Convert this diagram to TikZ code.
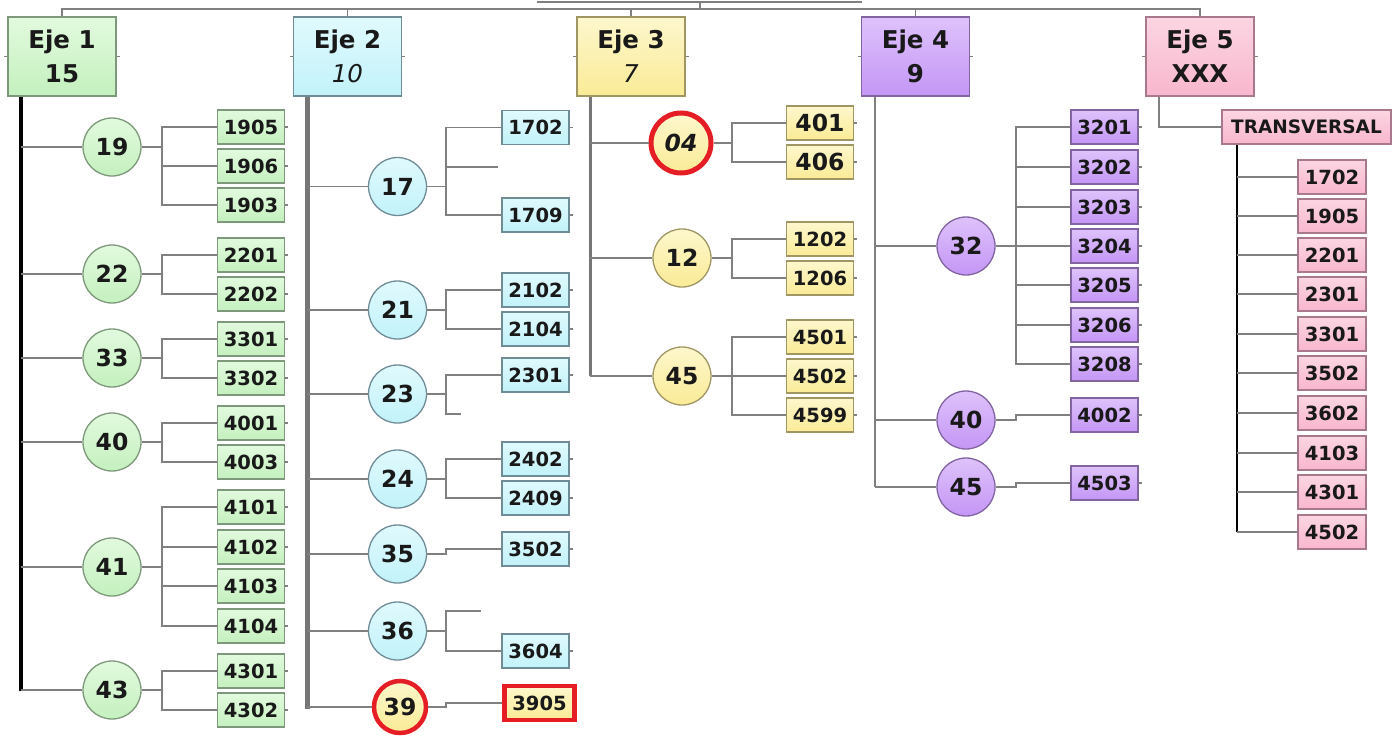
\documentclass[tikz,border=0pt]{standalone}
\usepackage{fontspec}
\setmainfont{DejaVu Sans}
\definecolor{tx}{RGB}{25,25,25}
\definecolor{lg}{RGB}{128,128,128}
\definecolor{tg}{RGB}{118,118,118}
\definecolor{gF}{RGB}{196,240,190}\definecolor{gT}{RGB}{226,250,222}\definecolor{gD}{RGB}{125,152,122}
\definecolor{bF}{RGB}{194,242,250}\definecolor{bT}{RGB}{224,250,253}\definecolor{bD}{RGB}{112,140,150}
\definecolor{yF}{RGB}{250,235,150}\definecolor{yT}{RGB}{253,247,205}\definecolor{yD}{RGB}{160,150,100}
\definecolor{pF}{RGB}{196,150,245}\definecolor{pT}{RGB}{222,194,251}\definecolor{pD}{RGB}{130,100,160}
\definecolor{rF}{RGB}{248,182,205}\definecolor{rT}{RGB}{252,214,226}\definecolor{rD}{RGB}{170,120,140}
\definecolor{ring}{RGB}{228,30,36}
\tikzset{
  conn/.style={draw=lg, line width=1.4pt},
  stubl/.style={draw=lg, line width=1.2pt},
  leafbase/.style={rectangle, minimum width=67pt, minimum height=34pt, inner sep=0pt, line width=1.3pt, text=tx,
     font=\fontsize{19.5}{19.5}\selectfont\bfseries},
  leafG/.style={leafbase, draw=gD, top color=gT, bottom color=gF},
  leafB/.style={leafbase, draw=bD, top color=bT, bottom color=bF},
  leafY/.style={leafbase, draw=yD, top color=yT, bottom color=yF},
  leafP/.style={leafbase, draw=pD, top color=pT, bottom color=pF},
  leafR/.style={leafbase, minimum width=68pt, draw=rD, top color=rT, bottom color=rF},
  circbase/.style={circle, minimum size=58pt, inner sep=0pt, line width=1.3pt, text=tx,
     font=\fontsize{23.5}{23.5}\selectfont\bfseries},
  circG/.style={circbase, draw=gD, top color=gT, bottom color=gF},
  circB/.style={circbase, draw=bD, top color=bT, bottom color=bF},
  circY/.style={circbase, draw=yD, top color=yT, bottom color=yF},
  circP/.style={circbase, draw=pD, top color=pT, bottom color=pF},
  head/.style={rectangle, minimum width=108pt, minimum height=79pt, inner sep=0pt, line width=1.5pt, align=center,
     text=tx, font=\fontsize{24.5}{34}\selectfont\bfseries},
}
\begin{document}
\begin{tikzpicture}[x=1pt,y=-1pt]
\useasboundingbox (0,0) rectangle (1396,736);
% headers
\node[head, draw=gD, top color=gT, bottom color=gF] (e1) at (62,56.5) {Eje 1\\15};
\node[head, draw=bD, top color=bT, bottom color=bF] (e2) at (347.5,56.5) {Eje 2\\{\mdseries\itshape 10}};
\node[head, draw=yD, top color=yT, bottom color=yF] (e3) at (631,56.5) {Eje 3\\{\mdseries\itshape 7}};
\node[head, draw=pD, top color=pT, bottom color=pF] (e4) at (915.5,56.5) {Eje 4\\9};
\node[head, draw=rD, top color=rT, bottom color=rF] (e5) at (1200,56.5) {Eje 5\\XXX};
% top connectors
\coordinate (top) at (700,9);
\coordinate (root) at (700,2);
\coordinate (ua) at (537,2);
\coordinate (ub) at (862,2);
\draw[conn] (ua) -- (ub);
\draw[conn] (root) -- (top);
\draw[conn] (e1.north) -- (e1.north |- top) -- (e5.north |- top) -- (e5.north);
\foreach \e in {e2,e3,e4} \draw[conn] (\e.north) -- (\e.north |- top);

% ---------- Eje 1 ----------
\foreach \n/\y in {19/147,22/274,33/358,40/442,41/567,43/690}
  \node[circG] (c\n) at (112,\y) {\n};
\foreach \n/\y in {1905/127,1906/166,1903/205,2201/255,2202/294,3301/339,3302/378,4001/423,4003/462,4101/507,4102/547,4103/586,4104/626,4301/671,4302/710}
  \node[leafG] (g\n) at (251,\y) {\n};
\coordinate (t1) at (21,691);
\coordinate (bg) at (162,0);
\draw[black, line width=3.2pt] (e1.south -| t1) -- (t1);
\foreach \c in {c19,c22,c33,c40,c41,c43} \draw[conn] (t1 |- \c.west) -- (\c.west);
\foreach \c/\l in {c19/g1905,c19/g1906,c19/g1903,c22/g2201,c22/g2202,c33/g3301,c33/g3302,c40/g4001,c40/g4003,c41/g4101,c41/g4102,c41/g4103,c41/g4104,c43/g4301,c43/g4302}
  \draw[conn] (\c.east) -- (\c.east -| bg) |- (\l.west);

% ---------- Eje 2 ----------
\foreach \n/\y in {17/186.5,21/310,23/394,24/479,35/554,36/631}
  \node[circB] (c\n) at (397.5,\y) {\n};
\node[circbase, minimum size=52pt, line width=4.5pt, draw=ring, top color=yT, bottom color=yF] (c39) at (400,707) {39};
\foreach \n/\y in {1702/127.5,1709/215,2102/290,2104/329,2301/375,2402/459,2409/498,3502/549,3604/651}
  \node[leafB] (b\n) at (535.5,\y) {\n};
\node[leafbase, minimum width=70pt, minimum height=34pt, line width=4.5pt, draw=ring, top color=yT, bottom color=yF] (b3905) at (539.5,703) {3905};
\coordinate (t2) at (307,709);
\coordinate (bb) at (446,0);
\coordinate (d17) at (498,167);
\coordinate (d23) at (461,414);
\coordinate (d36) at (481,611);
\draw[tg, line width=5pt] (e2.south -| t2) -- (t2);
\foreach \c in {c17,c21,c23,c24,c35,c36,c39} \draw[conn] (t2 |- \c.west) -- (\c.west);
\foreach \c/\l in {c17/b1702,c17/b1709,c21/b2102,c21/b2104,c23/b2301,c24/b2402,c24/b2409,c35/b3502,c36/b3604,c39/b3905}
  \draw[conn] (\c.east) -- (\c.east -| bb) |- (\l.west);
\draw[conn] (c17.east -| bb) |- (d17);
\draw[conn] (c23.east -| bb) |- (d23);
\draw[conn] (c36.east -| bb) |- (d36);

% ---------- Eje 3 ----------
\node[circbase, minimum size=60pt, line width=5pt, draw=ring, top color=yT, bottom color=yF,
      font=\fontsize{23.5}{23.5}\selectfont\bfseries\itshape] (c04) at (681,143) {04};
\node[circY] (c12) at (682,258) {12};
\node[circY] (c45) at (682,376) {45};
\node[leafY, font=\fontsize{23.5}{23.5}\selectfont\bfseries] (y401) at (820,123) {401};
\node[leafY, font=\fontsize{23.5}{23.5}\selectfont\bfseries] (y406) at (820,162) {406};
\foreach \n/\y in {1202/239,1206/278,4501/337,4502/376,4599/415}
  \node[leafY] (y\n) at (820,\y) {\n};
\coordinate (t3) at (590,376);
\coordinate (by) at (732,0);
\draw[tg, line width=3pt] (e3.south -| t3) -- (t3);
\foreach \c in {c04,c12,c45} \draw[conn] (t3 |- \c.west) -- (\c.west);
\foreach \c/\l in {c04/y401,c04/y406,c12/y1202,c12/y1206,c45/y4501,c45/y4502,c45/y4599}
  \draw[conn] (\c.east) -- (\c.east -| by) |- (\l.west);

% ---------- Eje 4 ----------
\node[circP] (c32) at (966,246) {32};
\node[circP] (c40p) at (966,420) {40};
\node[circP] (c45p) at (966,487) {45};
\foreach \n/\y in {3201/127,3202/167,3203/207,3204/246,3205/285,3206/325,3208/364,4002/415,4503/483}
  \node[leafP] (p\n) at (1104.5,\y) {\n};
\coordinate (t4) at (875,487);
\coordinate (bp) at (1016,0);
\draw[lg, line width=1.7pt] (e4.south -| t4) -- (t4);
\foreach \c in {c32,c40p,c45p} \draw[conn] (t4 |- \c.west) -- (\c.west);
\foreach \c/\l in {c32/p3201,c32/p3202,c32/p3203,c32/p3204,c32/p3205,c32/p3206,c32/p3208,c40p/p4002,c45p/p4503}
  \draw[conn] (\c.east) -- (\c.east -| bp) |- (\l.west);

% ---------- Eje 5 ----------
\node[leafR, minimum width=169pt, font=\fontsize{18.5}{18.5}\selectfont\bfseries] (trans) at (1306.5,127) {TRANSVERSAL};
\foreach \n/\y in {1702/177,1905/216,2201/255,2301/294,3301/334,3502/373,3602/413,4103/453,4301/492,4502/532}
  \node[leafR] (r\n) at (1332,\y) {\n};
\coordinate (t5) at (1159,0);
\coordinate (tp) at (1237,0);
\draw[conn] (e5.south -| t5) |- (trans.west);
\draw[black, line width=1.6pt] (trans.south -| tp) -- (tp |- r4502.west);
\foreach \l in {r1702,r1905,r2201,r2301,r3301,r3502,r3602,r4103,r4301,r4502}
  \draw[conn] (tp |- \l.west) -- (\l.west);

% small handle stubs
\foreach \l in {g1905,g1906,g1903,g2201,g2202,g3301,g3302,g4001,g4003,g4101,g4102,g4103,g4104,g4301,g4302,
  b1702,b1709,b2102,b2104,b2301,b2402,b2409,b3502,b3604,
  y401,y406,y1202,y1206,y4501,y4502,y4599,
  p3201,p3202,p3203,p3204,p3205,p3206,p3208,p4002,p4503}
  \draw[stubl] (\l.east) -- ++(3,0);
\foreach \e in {e1,e2,e3,e4,e5} {\draw[stubl] (\e.east) -- ++(3,0); \draw[stubl] (\e.west) -- ++(-3,0);}
\end{tikzpicture}
\end{document}
